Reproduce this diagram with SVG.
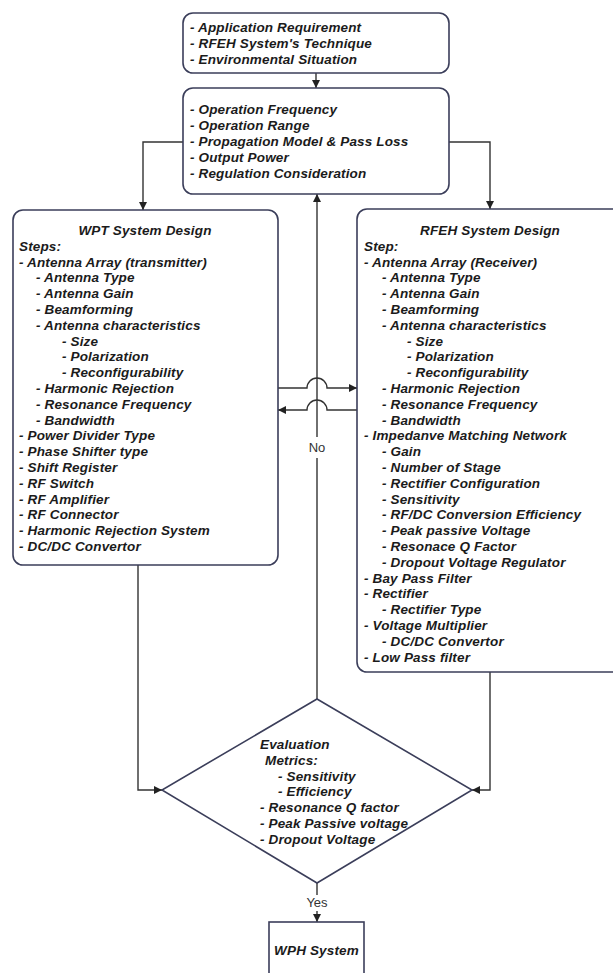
<svg xmlns="http://www.w3.org/2000/svg" width="613" height="973" viewBox="0 0 613 973">
<style>
.box{fill:#fff;stroke:#3b3e5a;stroke-width:1.6}
.t{font-family:"Liberation Sans",Arial,sans-serif;font-size:13.5px;font-weight:bold;font-style:italic;fill:#1b1b1b;letter-spacing:0.15px}
.c{text-anchor:middle}
.lbl{font-family:"Liberation Sans",Arial,sans-serif;font-size:13px;fill:#333;text-anchor:middle}
.cn{fill:none;stroke:#333;stroke-width:1.4}
</style>
<defs>
<marker id="ah" viewBox="0 0 10 10" refX="10" refY="5" markerWidth="8" markerHeight="8" markerUnits="userSpaceOnUse" orient="auto">
<path d="M0,0 L10,5 L0,10 Z" fill="#222"/>
</marker>
</defs>
<rect width="613" height="973" fill="#fff"/>
<g id="connectors">
<path class="cn" d="M316,73 V88" marker-end="url(#ah)"/>
<path class="cn" d="M183,142 H143 V210" marker-end="url(#ah)"/>
<path class="cn" d="M449,142 H490 V209" marker-end="url(#ah)"/>
<path class="cn" d="M278,388 H307 A10,10 0 0 1 327,388 H357" marker-end="url(#ah)"/>
<path class="cn" d="M357,410 H327 A10,10 0 0 0 307,410 H278" marker-end="url(#ah)"/>
<path class="cn" d="M317,699 V458"/>
<path class="cn" d="M317,437 V194" marker-end="url(#ah)"/>
<path class="cn" d="M138,565 V790 H162" marker-end="url(#ah)"/>
<path class="cn" d="M490,672 V790 H472" marker-end="url(#ah)"/>
<path class="cn" d="M317,883 V895"/>
<path class="cn" d="M317,911 V922" marker-end="url(#ah)"/>
<text class="lbl" x="317" y="452">No</text>
<text class="lbl" x="317" y="907">Yes</text>
</g>
<g id="inputs">
<rect class="box" x="183" y="13" width="266" height="60" rx="10"/>
<text class="t" x="190" y="32">- Application Requirement</text>
<text class="t" x="190" y="48">- RFEH System's Technique</text>
<text class="t" x="190" y="64">- Environmental Situation</text>
</g>
<g id="parameters">
<rect class="box" x="183" y="88" width="266" height="106" rx="10"/>
<text class="t" x="190" y="114">- Operation Frequency</text>
<text class="t" x="190" y="130">- Operation Range</text>
<text class="t" x="190" y="146">- Propagation Model &amp; Pass Loss</text>
<text class="t" x="190" y="162">- Output Power</text>
<text class="t" x="190" y="178">- Regulation Consideration</text>
</g>
<g id="wpt">
<rect class="box" x="13" y="210" width="265" height="355" rx="10"/>
<text class="t c" x="145" y="235">WPT System Design</text>
<text class="t" x="19" y="250.8">Steps:</text>
<text class="t" x="19" y="266.6">- Antenna Array (transmitter)</text>
<text class="t" x="36" y="282.4">- Antenna Type</text>
<text class="t" x="36" y="298.2">- Antenna Gain</text>
<text class="t" x="36" y="314">- Beamforming</text>
<text class="t" x="36" y="329.8">- Antenna characteristics</text>
<text class="t" x="62" y="345.6">- Size</text>
<text class="t" x="62" y="361.4">- Polarization</text>
<text class="t" x="62" y="377.2">- Reconfigurability</text>
<text class="t" x="36" y="393">- Harmonic Rejection</text>
<text class="t" x="36" y="408.8">- Resonance Frequency</text>
<text class="t" x="36" y="424.6">- Bandwidth</text>
<text class="t" x="19" y="440.4">- Power Divider Type</text>
<text class="t" x="19" y="456.2">- Phase Shifter type</text>
<text class="t" x="19" y="472">- Shift Register</text>
<text class="t" x="19" y="487.8">- RF Switch</text>
<text class="t" x="19" y="503.6">- RF Amplifier</text>
<text class="t" x="19" y="519.4">- RF Connector</text>
<text class="t" x="19" y="535.2">- Harmonic Rejection System</text>
<text class="t" x="19" y="551">- DC/DC Convertor</text>
</g>
<g id="rfeh">
<rect class="box" x="357" y="209" width="270" height="463" rx="10"/>
<text class="t c" x="490" y="235">RFEH System Design</text>
<text class="t" x="364" y="250.8">Step:</text>
<text class="t" x="364" y="266.6">- Antenna Array (Receiver)</text>
<text class="t" x="382" y="282.4">- Antenna Type</text>
<text class="t" x="382" y="298.2">- Antenna Gain</text>
<text class="t" x="382" y="314">- Beamforming</text>
<text class="t" x="382" y="329.8">- Antenna characteristics</text>
<text class="t" x="407" y="345.6">- Size</text>
<text class="t" x="407" y="361.4">- Polarization</text>
<text class="t" x="407" y="377.2">- Reconfigurability</text>
<text class="t" x="382" y="393">- Harmonic Rejection</text>
<text class="t" x="382" y="408.8">- Resonance Frequency</text>
<text class="t" x="382" y="424.6">- Bandwidth</text>
<text class="t" x="364" y="440.4">- Impedanve Matching Network</text>
<text class="t" x="382" y="456.2">- Gain</text>
<text class="t" x="382" y="472">- Number of Stage</text>
<text class="t" x="382" y="487.8">- Rectifier Configuration</text>
<text class="t" x="382" y="503.6">- Sensitivity</text>
<text class="t" x="382" y="519.4">- RF/DC Conversion Efficiency</text>
<text class="t" x="382" y="535.2">- Peak passive Voltage</text>
<text class="t" x="382" y="551">- Resonace Q Factor</text>
<text class="t" x="382" y="566.8">- Dropout Voltage Regulator</text>
<text class="t" x="364" y="582.6">- Bay Pass Filter</text>
<text class="t" x="364" y="598.4">- Rectifier</text>
<text class="t" x="382" y="614.2">- Rectifier Type</text>
<text class="t" x="364" y="630">- Voltage Multiplier</text>
<text class="t" x="382" y="645.8">- DC/DC Convertor</text>
<text class="t" x="364" y="661.6">- Low Pass filter</text>
</g>
<g id="evaluation">
<polygon class="box" points="317,699 472,790 317,883 162,790"/>
<text class="t" x="260" y="749">Evaluation</text>
<text class="t" x="265" y="765">Metrics:</text>
<text class="t" x="278" y="780.5">- Sensitivity</text>
<text class="t" x="278" y="796">- Efficiency</text>
<text class="t" x="260" y="812">- Resonance Q factor</text>
<text class="t" x="260" y="828">- Peak Passive voltage</text>
<text class="t" x="260" y="843.5">- Dropout Voltage</text>
</g>
<g id="wph">
<rect class="box" x="269" y="922" width="95" height="60"/>
<text class="t c" x="316.5" y="955">WPH System</text>
</g>
</svg>
